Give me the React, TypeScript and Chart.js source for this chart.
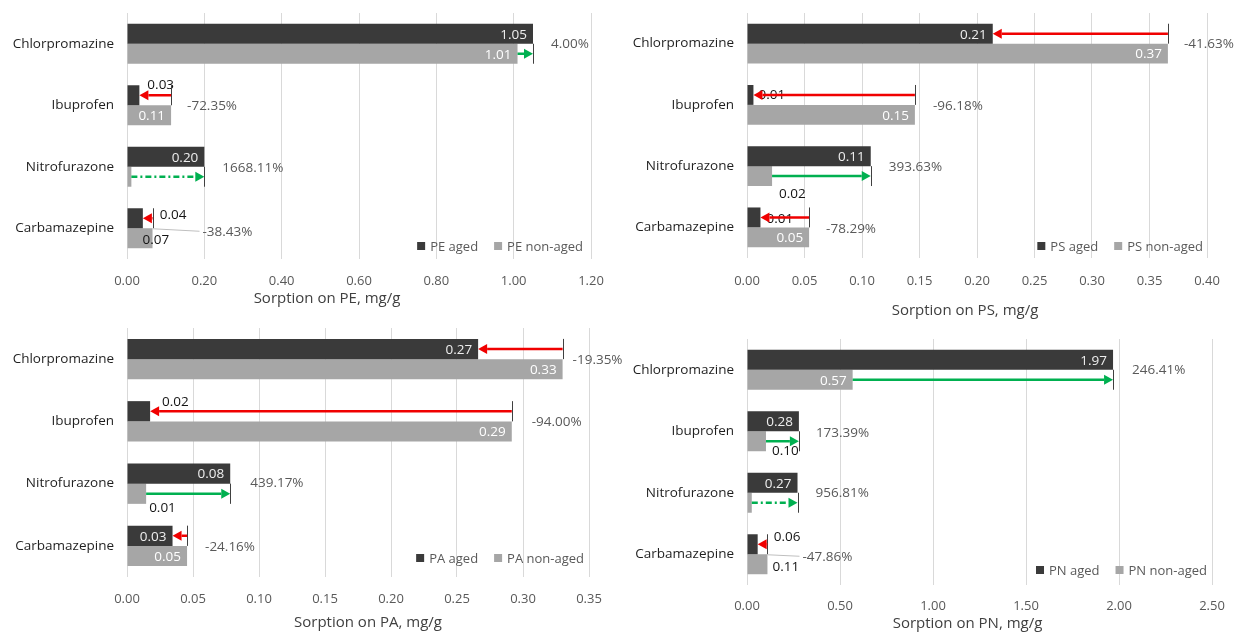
import React, { useEffect, useRef } from 'react';
import { Chart, registerables } from 'chart.js';

Chart.register(...registerables);

// ---------- data ----------
const categories = ['Chlorpromazine', 'Ibuprofen', 'Nitrofurazone', 'Carbamazepine'];

const peAged = [1.05, 0.032, 0.2, 0.041];
const peNonAged = [1.01, 0.114, 0.0113, 0.066];
const peChange = ['4.00%', '-72.35%', '1668.11%', '-38.43%'];

const psAged = [0.2137, 0.0056, 0.1076, 0.0117];
const psNonAged = [0.366, 0.146, 0.0218, 0.054];
const psChange = ['-41.63%', '-96.18%', '393.63%', '-78.29%'];

const paAged = [0.266, 0.0175, 0.0782, 0.0345];
const paNonAged = [0.33, 0.2915, 0.0145, 0.0455];
const paChange = ['-19.35%', '-94.00%', '439.17%', '-24.16%'];

const pnAged = [1.968, 0.279, 0.2716, 0.0574];
const pnNonAged = [0.568, 0.102, 0.0257, 0.11];
const pnChange = ['246.41%', '173.39%', '956.81%', '-47.86%'];

const peAxis = { max: 1.2, step: 0.2 };
const psAxis = { max: 0.4, step: 0.05 };
const paAxis = { max: 0.35, step: 0.05 };
const pnAxis = { max: 2.5, step: 0.5 };

// ---------- styling / layout ----------
const FONT = '"Open Sans", "DejaVu Sans", sans-serif';
const AGED_COLOR = '#3a3a3a';
const NON_COLOR = '#a6a6a6';
const LABEL_SIZE = 13.5;

type Lbl = 'in' | [number, number] | null;

interface Panel {
  name: string;
  aged: number[];
  nonAged: number[];
  change: string[];
  axis: { max: number; step: number };
  box: { left: number; top: number; width: number; height: number };
  area: { left: number; right: number; top: number; bottom: number };
  tickPad: number;
  title: { dx: number; y: number };
  agedLabels: Lbl[];
  nonLabels: Lbl[];
  changePos: [number, number][];
  leader: number;
  dashed: boolean[];
  legendUp: number;
  legendRight: number;
}

const panels: Panel[] = [
  {
    name: 'PE', aged: peAged, nonAged: peNonAged, change: peChange, axis: peAxis,
    box: { left: 0, top: 0, width: 640, height: 320 },
    area: { left: 127, right: 591, top: 13, bottom: 259 },
    tickPad: 14,
    title: { dx: -32, y: 299 },
    agedLabels: ['in', [8, -10], 'in', [17, -3]],
    nonLabels: ['in', 'in', null, [-10, 2]],
    changePos: [[18, 0], [16, 1], [18, 1], [50, 4]],
    leader: 3,
    dashed: [false, false, true, false],
    legendUp: 13, legendRight: 8,
  },
  {
    name: 'PS', aged: psAged, nonAged: psNonAged, change: psChange, axis: psAxis,
    box: { left: 617, top: 0, width: 618, height: 322 },
    area: { left: 747, right: 1207, top: 13, bottom: 258 },
    tickPad: 15,
    title: { dx: -12, y: 311 },
    agedLabels: ['in', [5, 0], 'in', [6, 2]],
    nonLabels: ['in', 'in', [7, 18], 'in'],
    changePos: [[16, 1], [18, 1], [18, 1], [17, 2]],
    leader: -1,
    dashed: [false, false, false, false],
    legendUp: 12, legendRight: 4,
  },
  {
    name: 'PA', aged: paAged, nonAged: paNonAged, change: paChange, axis: paAxis,
    box: { left: 0, top: 320, width: 640, height: 319 },
    area: { left: 127, right: 589, top: 328, bottom: 577 },
    tickPad: 14,
    title: { dx: 10, y: 623 },
    agedLabels: ['in', [12, -9], 'in', 'in'],
    nonLabels: ['in', 'in', [3, 14], 'in'],
    changePos: [[10, 1], [20, 1], [20, 0], [18, 1]],
    leader: -1,
    dashed: [false, false, false, false],
    legendUp: 19, legendRight: 5,
  },
  {
    name: 'PN', aged: pnAged, nonAged: pnNonAged, change: pnChange, axis: pnAxis,
    box: { left: 617, top: 320, width: 618, height: 319 },
    area: { left: 747, right: 1212, top: 339, bottom: 585 },
    tickPad: 13,
    title: { dx: -12, y: 624 },
    agedLabels: ['in', 'in', 'in', [16, -7]],
    nonLabels: ['in', [6, 10], null, [5, 3]],
    changePos: [[19, 0], [17, 2], [18, 0], [35, 3]],
    leader: 3,
    dashed: [false, false, true, false],
    legendUp: 15, legendRight: 5,
  },
];

function makePlugin(p: Panel) {
  return {
    id: 'annot' + p.name,
    afterDatasetsDraw(chart: any) {
      const ctx: CanvasRenderingContext2D = chart.ctx;
      const xs = chart.scales.x;
      const ys = chart.scales.y;
      const m0 = chart.getDatasetMeta(0).data;
      const m1 = chart.getDatasetMeta(1).data;
      ctx.save();
      ctx.font = `${LABEL_SIZE}px ${FONT}`;
      ctx.textBaseline = 'middle';

      const drawLabel = (el: any, v: number, mode: Lbl, inColor: string) => {
        if (!mode) return;
        const text = v.toFixed(2);
        if (mode === 'in') {
          ctx.fillStyle = inColor;
          ctx.textAlign = 'right';
          ctx.fillText(text, el.x - 6, el.y + 1);
        } else {
          ctx.fillStyle = '#141414';
          ctx.textAlign = 'left';
          ctx.fillText(text, el.x + mode[0], el.y + mode[1]);
        }
      };

      for (let i = 0; i < categories.length; i++) {
        drawLabel(m0[i], p.aged[i], p.agedLabels[i], '#eeeeee');
        drawLabel(m1[i], p.nonAged[i], p.nonLabels[i], '#ffffff');
      }

      // arrows
      for (let i = 0; i < categories.length; i++) {
        const a = p.aged[i];
        const n = p.nonAged[i];
        const inc = a > n;
        const el = inc ? m1[i] : m0[i];
        const y = el.y;
        const h = el.height;
        const xn = xs.getPixelForValue(n);
        const xa = xs.getPixelForValue(a);
        const xm = Math.max(xn, xa);
        ctx.strokeStyle = '#404040';
        ctx.lineWidth = 1;
        ctx.setLineDash([]);
        ctx.beginPath();
        ctx.moveTo(Math.round(xm) + 0.5, y - h / 2);
        ctx.lineTo(Math.round(xm) + 0.5, y + h / 2);
        ctx.stroke();

        const color = inc ? '#00b050' : '#f00000';
        const dir = xa > xn ? 1 : -1;
        const head = 9;
        const hw = 5;
        ctx.strokeStyle = color;
        ctx.fillStyle = color;
        ctx.lineWidth = 2.5;
        if (p.dashed[i]) ctx.setLineDash([6, 3, 2, 3]);
        const lineEnd = xa - dir * head;
        if ((lineEnd - xn) * dir > 0) {
          ctx.beginPath();
          ctx.moveTo(xn, y);
          ctx.lineTo(lineEnd, y);
          ctx.stroke();
        }
        ctx.setLineDash([]);
        ctx.beginPath();
        ctx.moveTo(xa, y);
        ctx.lineTo(xa - dir * head, y - hw);
        ctx.lineTo(xa - dir * head, y + hw);
        ctx.closePath();
        ctx.fill();
      }

      // change labels
      ctx.font = `${LABEL_SIZE}px ${FONT}`;
      ctx.textAlign = 'left';
      for (let i = 0; i < categories.length; i++) {
        const c = ys.getPixelForValue(i);
        const xm = xs.getPixelForValue(Math.max(p.aged[i], p.nonAged[i]));
        const [dx, dy] = p.changePos[i];
        if (p.leader === i) {
          ctx.strokeStyle = '#bfbfbf';
          ctx.lineWidth = 1;
          ctx.beginPath();
          ctx.moveTo(xm, c + 0.5);
          ctx.lineTo(xm + dx - 3, c + dy - 1);
          ctx.stroke();
        }
        ctx.fillStyle = '#595959';
        ctx.fillText(p.change[i], xm + dx, c + dy);
      }

      // legend
      ctx.font = `13px ${FONT}`;
      const ds = chart.data.datasets;
      const box = 8;
      const gapT = 5;
      const gapI = 16;
      const widths = ds.map((d: any) => ctx.measureText(d.label).width);
      const total = ds.length * (box + gapT) + widths.reduce((s: number, w: number) => s + w, 0) + gapI * (ds.length - 1);
      let x = chart.chartArea.right - p.legendRight - total;
      const ly = chart.chartArea.bottom - p.legendUp;
      ds.forEach((d: any, k: number) => {
        ctx.fillStyle = d.backgroundColor;
        ctx.fillRect(x, ly - box / 2, box, box);
        x += box + gapT;
        ctx.fillStyle = '#595959';
        ctx.fillText(d.label, x, ly + 1);
        x += widths[k] + gapI;
      });

      // axis title
      ctx.font = `15px ${FONT}`;
      ctx.fillStyle = '#404040';
      ctx.textAlign = 'center';
      const cx = (chart.chartArea.left + chart.chartArea.right) / 2 + p.title.dx;
      ctx.fillText(`Sorption on ${p.name}, mg/g`, cx, p.title.y - p.box.top);
      ctx.restore();
    },
  };
}

function PanelChart({ p }: { p: Panel }) {
  const ref = useRef<HTMLCanvasElement | null>(null);
  useEffect(() => {
    if (!ref.current) return;
    const yw = p.area.left - p.box.left;
    const xh = p.box.top + p.box.height - p.area.bottom;
    const chart = new Chart(ref.current, {
      type: 'bar',
      data: {
        labels: categories,
        datasets: [
          { label: `${p.name} aged`, data: p.aged, backgroundColor: AGED_COLOR, categoryPercentage: 0.65, barPercentage: 1 },
          { label: `${p.name} non-aged`, data: p.nonAged, backgroundColor: NON_COLOR, categoryPercentage: 0.65, barPercentage: 1 },
        ],
      },
      options: {
        indexAxis: 'y',
        animation: false,
        responsive: false,
        devicePixelRatio: 1,
        layout: {
          padding: {
            top: p.area.top - p.box.top,
            right: p.box.left + p.box.width - p.area.right,
            left: 0,
            bottom: 0,
          },
        },
        plugins: { legend: { display: false }, tooltip: { enabled: false } },
        scales: {
          x: {
            min: 0,
            max: p.axis.max,
            ticks: {
              stepSize: p.axis.step,
              callback: (v: any) => Number(v).toFixed(2),
              color: '#595959',
              font: { family: FONT, size: 13 },
              padding: p.tickPad,
              maxRotation: 0,
            },
            grid: { color: '#d9d9d9', drawTicks: false },
            border: { display: false },
            title: { display: false },
            afterFit: (s: any) => {
              s.height = xh;
              s.paddingLeft = 0;
              s.paddingRight = 0;
            },
          },
          y: {
            ticks: { color: '#1f1f1f', font: { family: FONT, size: 13.5 }, padding: 13 },
            grid: { display: false, drawTicks: false },
            border: { display: false },
            afterFit: (s: any) => {
              s.width = yw;
              s.paddingTop = 0;
              s.paddingBottom = 0;
            },
          },
        },
      } as any,
      plugins: [makePlugin(p)],
    });
    return () => chart.destroy();
  }, [p]);
  return (
    <canvas
      ref={ref}
      width={p.box.width}
      height={p.box.height}
      style={{
        position: 'absolute',
        left: p.box.left,
        top: p.box.top,
        width: p.box.width,
        height: p.box.height,
      }}
    />
  );
}

export default function App() {
  return (
    <div
      style={{
        position: 'absolute',
        left: 0,
        top: 0,
        width: 1235,
        height: 639,
        background: '#ffffff',
        overflow: 'hidden',
      }}
    >
      {panels.map((p) => (
        <PanelChart key={p.name} p={p} />
      ))}
    </div>
  );
}
